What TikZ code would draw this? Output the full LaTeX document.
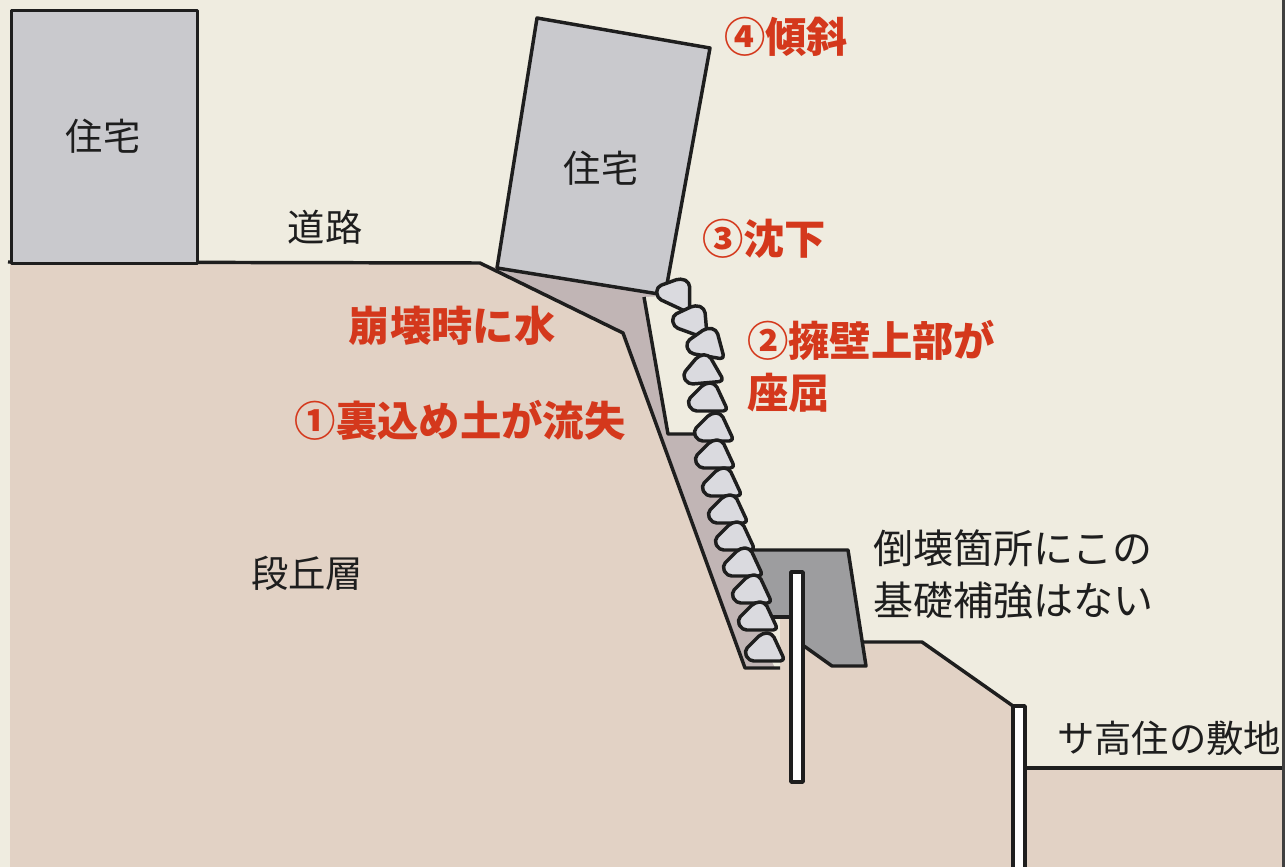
\documentclass[tikz,border=0pt]{standalone}
\usepackage{fontspec}
\newfontfamily\jp{Noto Sans CJK JP}
\definecolor{sky}{HTML}{EFECE0}
\definecolor{soil}{HTML}{E2D2C5}
\definecolor{housegray}{HTML}{C9C9CD}
\definecolor{backfill}{HTML}{C1B5B5}
\definecolor{stonegray}{HTML}{DADADF}
\definecolor{footing}{HTML}{9D9D9F}
\definecolor{alert}{HTML}{D4381C}
\definecolor{ink}{HTML}{1E1E1E}
\tikzset{
  outline/.style={draw=ink, line width=2.6pt, line join=round},
  plainlabel/.style={font=\jp\fontsize{28}{34}\selectfont, text=ink, inner sep=0pt},
  notelabel/.style={font=\jp\fontsize{30}{39}\selectfont, text=ink, inner sep=0pt},
  warnlabel/.style={font=\jp\bfseries\fontsize{31}{38}\selectfont, text=alert, inner sep=0pt},
  stone/.pic={\filldraw[outline, fill=stonegray, rounded corners=3.5pt]
     (-3,-15) -- (7,-15) -- (20,13) -- (-16,13) -- (-21,3) -- cycle;}
}
\begin{document}
\begin{tikzpicture}[x=0.75pt, y=-0.75pt]
\useasboundingbox (0,0) rectangle (1285,867);
\clip (0,0) rectangle (1285,867);
% sky
\fill[sky] (0,0) rectangle (1285,867);
% terrace soil
\fill[soil] (10,262) -- (480,263) -- (623,333) -- (745,668) -- (780,668) -- (780,617)
  -- (855,617) -- (862,642) -- (922,642) -- (1010,705) -- (1019,705) -- (1019,768)
  -- (1285,768) -- (1285,867) -- (10,867) -- cycle;
% backfill behind the retaining wall
\fill[backfill] (478,263) -- (623,333) -- (745,668) -- (775,668) -- (765,648) -- (714,428)
  -- (708,398) -- (703,370) -- (707,343) -- (693,320) -- (677,293) -- (665,295) -- (497,268) -- cycle;
% washed-out cavity
\fill[sky] (644,297) -- (668,434) -- (712,434) -- (706,400) -- (700,370) -- (704,343)
  -- (690,320) -- (675,300) -- (665,296) -- cycle;
\draw[outline] (644,297) -- (668,434) -- (708,434);
% ground surface lines
\draw[outline] (8,262) -- (480,263) -- (623,333) -- (745,668) -- (780,668);
\draw[outline] (862,642) -- (922,642) -- (1013,706);
\draw[outline] (1025,768) -- (1285,768);
% foundation
\fill[footing] (748,550) -- (848,550) -- (866,666) -- (832,666) -- (797,641) -- (797,617) -- (765,617) -- cycle;
\draw[outline] (748,550) -- (848,550) -- (866,666) -- (832,666) -- (797,641);
\draw[outline] (765,617) -- (797,617);
% piles
\filldraw[outline, fill=white] (791,572) rectangle (803,782);
\filldraw[outline, fill=white] (1013,706) rectangle (1025,880);
% houses
\node[outline, fill=housegray, minimum width=186*0.75pt, minimum height=253*0.75pt, anchor=north west, inner sep=0pt] (houseL) at (10,9) {};
\filldraw[outline, fill=housegray] (537,18) -- (710,48) -- (665,295) -- (497,268) -- cycle;
% wall stones
\foreach \x/\y/\r in {677/293/-25, 693/320/-20, 707/343/-10, 703/370/5, 708/398/0, 714/428/0,
   715/455/0, 722/483/0, 728/510/0, 735/537/0, 743/563/0, 752/590/0, 758/617/0, 765/648/0}
  \pic[rotate=\r] at (\x,\y) {stone};
% right border strip
\fill[ink!85] (1282,0) rectangle (1285,867);
% labels
\node[plainlabel] (lblHouseL) at (103,136) {住宅};
\node[plainlabel] (lblHouseR) at (601,168) {住宅};
\node[plainlabel] (lblRoad) at (325,227) {道路};
\node[plainlabel] (lblTerrace) at (307,573) {段丘層};
\node[warnlabel] (lblTilt) at (786,37) {④傾斜};
\node[warnlabel] (lblSink) at (764,239) {③沈下};
\node[warnlabel] (lblWater) at (452,326) {崩壊時に水};
\node[warnlabel] (lblLoss) at (460,420) {①裏込め土が流失};
\node[warnlabel, anchor=west] (lblBuckle) at (747,340) {②擁壁上部が};
\node[warnlabel, anchor=west] (lblBuckle2) at (747,393) {座屈};
\node[notelabel, anchor=west] (lblNote1) at (873,548) {倒壊箇所にこの};
\node[notelabel, anchor=west] (lblNote2) at (873,600) {基礎補強はない};
\node[plainlabel, anchor=west] (lblSite) at (1057,738) {サ高住の敷地};
\end{tikzpicture}
\end{document}
